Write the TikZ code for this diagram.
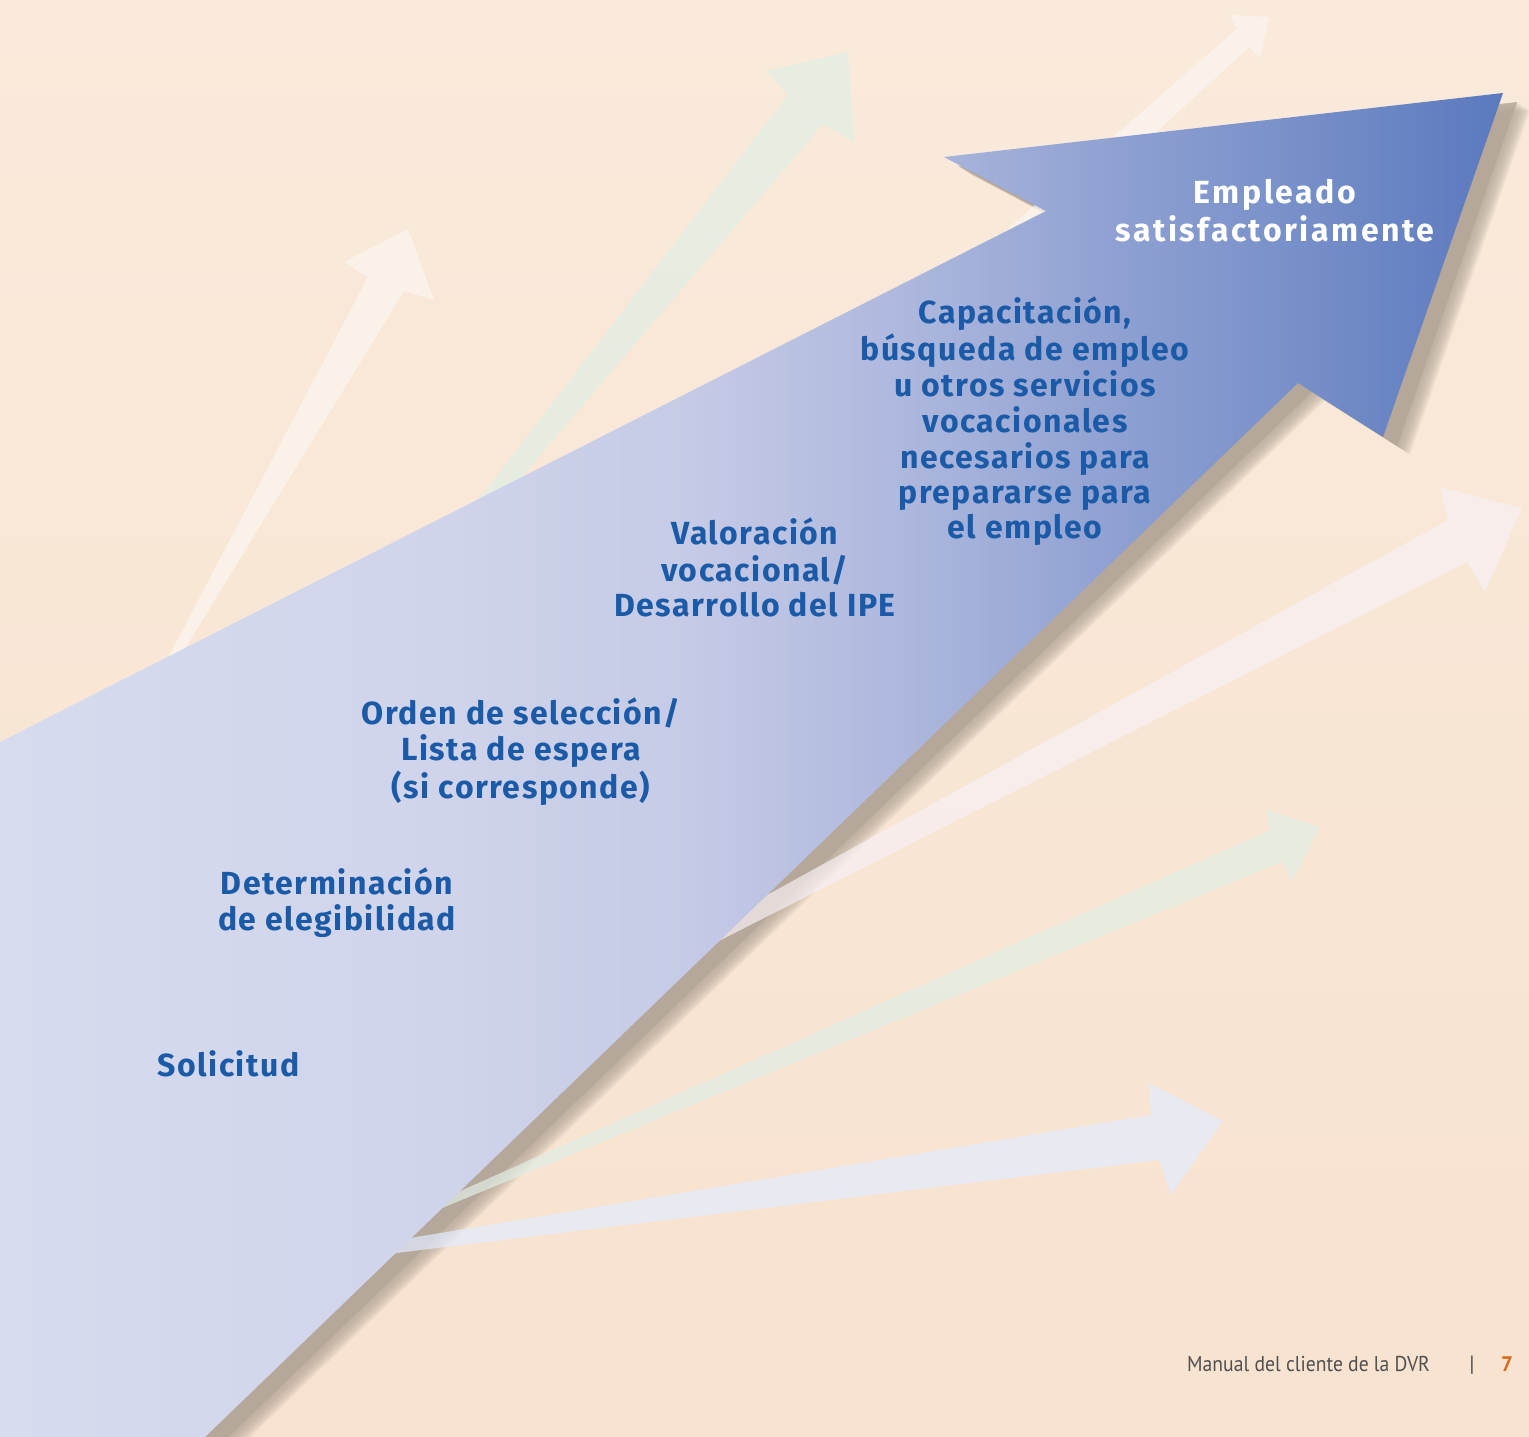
\documentclass[tikz,border=0pt]{standalone}
\usepackage{fontspec}
\newfontfamily\labfont[LetterSpace=4.7]{Fira Sans}
\newfontfamily\labwfont[LetterSpace=8.0]{Fira Sans}
\newfontfamily\footfont{PT Sans}
\definecolor{bgtop}{HTML}{F9EADB}
\definecolor{bgbot}{HTML}{F8E2CF}
\definecolor{ba0}{HTML}{D6DBEE}
\definecolor{ba1}{HTML}{CFD4EB}
\definecolor{ba2}{HTML}{C5CAE6}
\definecolor{ba3}{HTML}{AEB8DD}
\definecolor{ba4}{HTML}{8FA1D2}
\definecolor{ba5}{HTML}{7890C9}
\definecolor{ba6}{HTML}{5B79BE}
\definecolor{shadowc}{HTML}{B5A799}
\definecolor{creamarr}{HTML}{FBF6F1}
\definecolor{greenarr}{HTML}{E0EFE5}
\definecolor{pinkarr}{HTML}{F7F0F4}
\definecolor{lavarr}{HTML}{E3ECFF}
\definecolor{labblue}{HTML}{1B5AA6}
\definecolor{footgray}{HTML}{505050}
\definecolor{pageorange}{HTML}{D06A1C}
\pgfdeclarehorizontalshading{bigarrowshade}{100bp}{color(0bp)=(ba0); color(25bp)=(ba0); color(40bp)=(ba1); color(48bp)=(ba2); color(55bp)=(ba3); color(62bp)=(ba4); color(68bp)=(ba5); color(75bp)=(ba6); color(100bp)=(ba6)}
\newcommand{\ls}{\vrule width 0pt height 25pt depth 10pt}
\newcommand{\lsb}{\vrule width 0pt height 27pt depth 11pt}
\newcommand{\tightlines}{\lineskiplimit=16000pt\lineskip=0pt\baselineskip=0pt}
\newcommand{\bigarrowpath}{(0,742) -- (1046,211) -- (944,157) -- (1503,93) -- (1383,437) -- (1298,383) -- (205,1437) -- (0,1437) -- cycle}
\tikzset{
  bgarrow/.style={fill=#1, opacity=0.7, draw=none},
  shadowlayer/.style={fill=shadowc, draw=none},
  lab/.style={font=\labfont\bfseries\fontsize{32}{35}\selectfont\tightlines, text=labblue, align=center, inner sep=0pt, anchor=north},
  labwhite/.style={font=\labwfont\bfseries\fontsize{32}{38}\selectfont\tightlines, text=white, align=center, inner sep=0pt, anchor=north},
}
\begin{document}
\begin{tikzpicture}[x=1pt,y=-1pt]
\useasboundingbox (0,0) rectangle (1529,1437);
% background
\fill[top color=bgtop, bottom color=bgbot] (0,0) rectangle (1529,1437);
% soft shadow of the big arrow
\fill[shadowlayer, opacity=0.8, shift={(14,9)}] \bigarrowpath;
\foreach \k in {0,...,11} {
  \fill[shadowlayer, opacity=0.12, shift={({15+1.1*\k},{9.6+0.72*\k})}] \bigarrowpath;
}
% background arrows
\fill[bgarrow=creamarr] (106,776) -- (368,277) -- (344,262) -- (408,229) -- (434,300) -- (404,291) -- (118,758) -- cycle;
\fill[bgarrow=greenarr] (434,558) -- (788,95) -- (766,71) -- (848,52) -- (854,142) -- (823,124) -- (478,528) -- cycle;
\fill[bgarrow=creamarr] (972,260) -- (1237,29) -- (1230,15) -- (1269,17) -- (1260,58) -- (1249,47) -- (1015,262) -- cycle;
\fill[bgarrow=pinkarr] (700,932) -- (1448,520) -- (1440,487) -- (1522,508) -- (1485,592) -- (1467,562) -- (705,948) -- cycle;
\fill[bgarrow=greenarr] (420,1209) -- (1270,830) -- (1266,810) -- (1320,827) -- (1292,882) -- (1282,862) -- (430,1213) -- cycle;
\fill[bgarrow=lavarr] (380,1243) -- (1151,1115) -- (1149,1083) -- (1223,1121) -- (1171,1195) -- (1159,1160) -- (380,1255) -- cycle;
% big arrow
\shade[shading=bigarrowshade] \bigarrowpath;
% labels
\node[labwhite] (emp) at (1275,176) {\lsb Empleado\\\lsb satisfactoriamente};
\node[lab] (cap) at (1025,297) {\ls Capacitación,\\\ls búsqueda de empleo\\\ls u otros servicios\\\ls vocacionales\\\ls necesarios para\\\ls prepararse para\\\ls el empleo};
\node[lab] (val) at (755,518) {\ls Valoración\\\ls vocacional/\\\ls Desarrollo del IPE};
\node[lab] (ord) at (521,698) {\ls Orden de selección/\\\ls Lista de espera\\\ls (si corresponde)};
\node[lab] (det) at (337,868) {\ls Determinación\\\ls de elegibilidad};
\node[lab] (sol) at (228.5,1050) {\ls Solicitud};
% footer
\node[anchor=base west, inner sep=0pt, text=footgray, font=\footfont\fontsize{21.5}{26}\selectfont] (foot) at (1187,1371) {\scalebox{0.913}[1]{Manual del cliente de la DVR}};
\node[anchor=base, inner sep=0pt, text=footgray, font=\footfont\fontsize{22}{26}\selectfont] (bar) at (1472,1371) {|};
\node[anchor=base west, inner sep=0pt, text=pageorange, font=\footfont\bfseries\fontsize{21}{24}\selectfont] (pnum) at (1501,1371) {7};
\end{tikzpicture}
\end{document}
